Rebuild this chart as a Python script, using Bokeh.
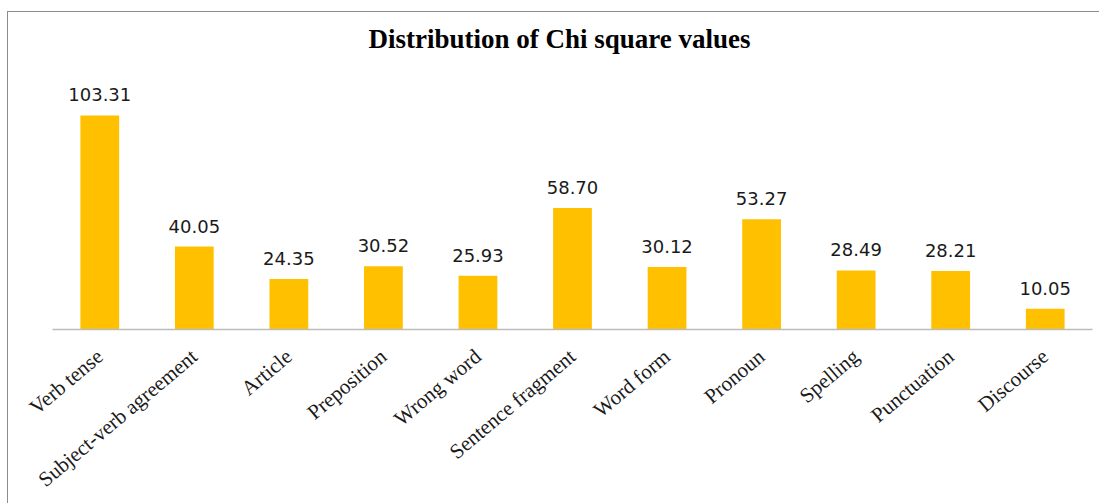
import math
from bokeh.plotting import figure
from bokeh.models import ColumnDataSource, LabelSet, Range1d, FactorRange
from bokeh.core.properties import value
from bokeh.embed import file_html
from bokeh.resources import INLINE

categories = ["Verb tense", "Subject-verb agreement", "Article", "Preposition",
              "Wrong word", "Sentence fragment", "Word form", "Pronoun",
              "Spelling", "Punctuation", "Discourse"]
values = [103.31, 40.05, 24.35, 30.52, 25.93, 58.70, 30.12, 53.27, 28.49, 28.21, 10.05]
value_labels = ["%.2f" % v for v in values]

src = ColumnDataSource(dict(cat=categories, val=values, lab=value_labels))

p = figure(width=1092, height=492, x_range=FactorRange(*categories),
           y_range=Range1d(0, 130.8), output_backend="svg", toolbar_location=None,
           title="Distribution of Chi square values",
           min_border_left=44, min_border_right=8, min_border_top=46, min_border_bottom=175)
p.styles = {"border-left": "1px solid #8c8c8c", "border-top": "1px solid #8c8c8c",
            "margin-top": "11px", "margin-left": "7px"}

p.title.align = "left"
p.title.offset = 316
p.title.text_font = "Liberation Serif"
p.title.text_font_size = "27px"
p.title.text_font_style = "bold"
p.title.text_color = "#000000"

p.vbar(x="cat", top="val", width=0.41, source=src, fill_color="#FFC000", line_color=None)

labels = LabelSet(x="cat", y="val", text="lab", source=src, text_align="center",
                  text_baseline="alphabetic", y_offset=14, text_font=value("DejaVu Sans"),
                  text_font_size=value("18px"), text_color="#1a1a1a")
p.add_layout(labels)

p.yaxis.visible = False
p.xgrid.grid_line_color = None
p.ygrid.grid_line_color = None
p.outline_line_color = None

ax = p.xaxis[0]
ax.axis_line_color = "#bcbcbc"
ax.axis_line_width = 1.5
ax.major_tick_line_color = None
ax.minor_tick_line_color = None
ax.major_label_orientation = 0.70
ax.major_label_text_font = "Liberation Serif"
ax.major_label_text_font_size = "21px"
ax.major_label_text_color = "#1a1a1a"
ax.major_label_standoff = 18

open("out.html", "w").write(file_html(p, INLINE))
